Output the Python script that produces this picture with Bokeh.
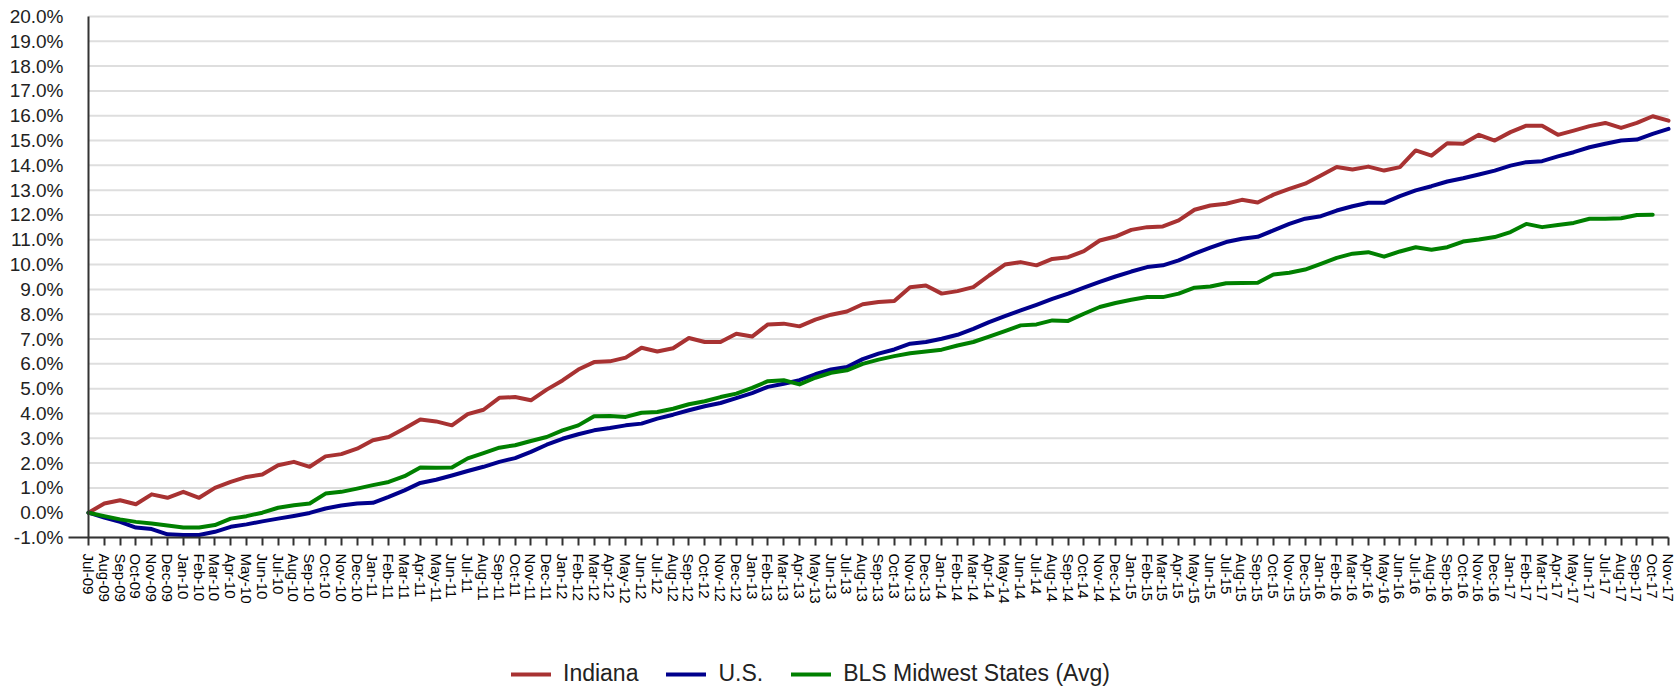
from bokeh.plotting import figure
from bokeh.models import (ColumnDataSource, FixedTicker, PrintfTickFormatter,
                          Legend, LegendItem, Range1d)
from bokeh.embed import file_html
from bokeh.resources import INLINE

months = [
    "Jul-09", "Aug-09", "Sep-09", "Oct-09", "Nov-09", "Dec-09",
    "Jan-10", "Feb-10", "Mar-10", "Apr-10", "May-10", "Jun-10", "Jul-10", "Aug-10", "Sep-10", "Oct-10", "Nov-10", "Dec-10",
    "Jan-11", "Feb-11", "Mar-11", "Apr-11", "May-11", "Jun-11", "Jul-11", "Aug-11", "Sep-11", "Oct-11", "Nov-11", "Dec-11",
    "Jan-12", "Feb-12", "Mar-12", "Apr-12", "May-12", "Jun-12", "Jul-12", "Aug-12", "Sep-12", "Oct-12", "Nov-12", "Dec-12",
    "Jan-13", "Feb-13", "Mar-13", "Apr-13", "May-13", "Jun-13", "Jul-13", "Aug-13", "Sep-13", "Oct-13", "Nov-13", "Dec-13",
    "Jan-14", "Feb-14", "Mar-14", "Apr-14", "May-14", "Jun-14", "Jul-14", "Aug-14", "Sep-14", "Oct-14", "Nov-14", "Dec-14",
    "Jan-15", "Feb-15", "Mar-15", "Apr-15", "May-15", "Jun-15", "Jul-15", "Aug-15", "Sep-15", "Oct-15", "Nov-15", "Dec-15",
    "Jan-16", "Feb-16", "Mar-16", "Apr-16", "May-16", "Jun-16", "Jul-16", "Aug-16", "Sep-16", "Oct-16", "Nov-16", "Dec-16",
    "Jan-17", "Feb-17", "Mar-17", "Apr-17", "May-17", "Jun-17", "Jul-17", "Aug-17", "Sep-17", "Oct-17", "Nov-17",
]

indiana = [
    0.0, 0.37, 0.5, 0.34, 0.74, 0.6, 0.84, 0.6, 1.0, 1.24,
    1.44, 1.54, 1.91, 2.05, 1.85, 2.27, 2.36, 2.58, 2.92, 3.05,
    3.39, 3.76, 3.68, 3.52, 3.97, 4.15, 4.63, 4.66, 4.53, 4.96,
    5.33, 5.77, 6.07, 6.1, 6.25, 6.65, 6.5, 6.63, 7.04, 6.88,
    6.88, 7.21, 7.1, 7.59, 7.62, 7.51, 7.78, 7.98, 8.11, 8.4,
    8.49, 8.53, 9.09, 9.16, 8.83, 8.93, 9.09, 9.56, 10.0, 10.1,
    9.97, 10.23, 10.3, 10.54, 10.97, 11.13, 11.4, 11.51, 11.54, 11.78,
    12.21, 12.38, 12.45, 12.61, 12.5, 12.82, 13.05, 13.26, 13.59, 13.93,
    13.83, 13.95, 13.79, 13.93, 14.6, 14.39, 14.89, 14.87, 15.23, 15.0,
    15.34, 15.6, 15.6, 15.23, 15.4, 15.58, 15.71, 15.51, 15.71, 15.98,
    15.8,
]

us = [
    0.0, -0.2, -0.37, -0.6, -0.66, -0.87, -0.9, -0.9, -0.77, -0.57,
    -0.47, -0.35, -0.24, -0.13, -0.01, 0.17, 0.29, 0.37, 0.4, 0.64,
    0.9, 1.2, 1.33, 1.5, 1.68, 1.85, 2.05, 2.2, 2.45, 2.74,
    2.98, 3.16, 3.32, 3.41, 3.52, 3.59, 3.79, 3.95, 4.13, 4.29,
    4.42, 4.62, 4.82, 5.07, 5.2, 5.34, 5.58, 5.77, 5.87, 6.19,
    6.41, 6.58, 6.81, 6.88, 7.01, 7.17, 7.41, 7.68, 7.92, 8.15,
    8.38, 8.62, 8.83, 9.07, 9.3, 9.52, 9.72, 9.9, 9.97, 10.17,
    10.44, 10.68, 10.91, 11.04, 11.12, 11.38, 11.64, 11.85, 11.95, 12.18,
    12.35, 12.49, 12.49, 12.76, 12.99, 13.16, 13.35, 13.48, 13.63, 13.79,
    13.99, 14.13, 14.17, 14.36, 14.53, 14.73, 14.87, 15.0, 15.04, 15.27,
    15.47,
]

midwest = [
    0.0, -0.14, -0.27, -0.37, -0.44, -0.52, -0.6, -0.6, -0.5, -0.24,
    -0.14, 0.0, 0.2, 0.3, 0.37, 0.77, 0.84, 0.97, 1.11, 1.24,
    1.47, 1.82, 1.81, 1.82, 2.19, 2.4, 2.62, 2.72, 2.89, 3.05,
    3.32, 3.52, 3.89, 3.9, 3.86, 4.03, 4.06, 4.19, 4.37, 4.49,
    4.66, 4.8, 5.03, 5.3, 5.34, 5.17, 5.44, 5.64, 5.74, 6.0,
    6.17, 6.31, 6.43, 6.5, 6.57, 6.74, 6.88, 7.1, 7.32, 7.55,
    7.59, 7.75, 7.73, 8.02, 8.29, 8.45, 8.58, 8.69, 8.69, 8.83,
    9.07, 9.12, 9.25, 9.26, 9.27, 9.6, 9.67, 9.8, 10.03, 10.27,
    10.44, 10.5, 10.32, 10.53, 10.7, 10.6, 10.7, 10.93, 11.01, 11.11,
    11.31, 11.64, 11.51, 11.6, 11.68, 11.85, 11.85, 11.87, 12.0, 12.01,
    float("nan"),
]

y_ticks = [-1, 0, 1, 2, 3, 4, 5, 6, 7, 8, 9, 10, 11, 12, 13, 14, 15, 16, 17, 18, 19, 20]

series_names = ["Indiana", "U.S.", "BLS Midwest States (Avg)"]
series_colors = ["#A83232", "#00008C", "#008000"]

x_idx = list(range(len(months)))
src = ColumnDataSource(data=dict(x=x_idx, indiana=indiana, us=us, midwest=midwest))

FONT = "Liberation Sans"

# ---- layout (pixels inside the canvas); the frame fills the whole canvas and the
# axes are pinned at the first month / the -1% level so that edge labels are not clipped
FIG_W, FIG_H = 1678, 686
X0_PX, XN_PX = 88, 1668       # pixel of first / last month
Y_TOP_PX, Y_BOT_PX = 16, 537  # pixel of top (20%) / bottom (-1%) value
n_last = len(months) - 1
sp_x = (XN_PX - X0_PX) / n_last
sp_y = (Y_BOT_PX - Y_TOP_PX) / (y_ticks[-1] - y_ticks[0])
x_start = -X0_PX / sp_x
x_end = n_last + (FIG_W - XN_PX) / sp_x
y_end = y_ticks[-1] + Y_TOP_PX / sp_y
y_start = y_ticks[0] - (FIG_H - Y_BOT_PX) / sp_y

p = figure(width=FIG_W, height=FIG_H, output_backend="svg", toolbar_location=None,
           x_range=Range1d(x_start, x_end), y_range=Range1d(y_start, y_end),
           min_border_left=0, min_border_right=0, min_border_top=0, min_border_bottom=0)
p.outline_line_color = None
p.background_fill_color = "white"
p.border_fill_color = "white"
p.xgrid.visible = False
p.ygrid.visible = False

# horizontal grid lines, from the first to the last month
p.segment(x0=[0] * len(y_ticks), x1=[n_last] * len(y_ticks), y0=y_ticks, y1=y_ticks,
          line_color="#dedede", line_width=2)

renderers = []
for col, color in zip(["indiana", "us", "midwest"], series_colors):
    r = p.line("x", col, source=src, line_color=color, line_width=4, line_join="round", line_cap="round")
    renderers.append(r)

# x axis, drawn at the -1% level
p.xaxis.fixed_location = y_ticks[0]
p.xaxis.bounds = (-20 / sp_x, n_last)
p.xaxis.ticker = FixedTicker(ticks=x_idx)
p.xaxis.major_label_overrides = {i: m for i, m in enumerate(months)}
p.xaxis.major_label_orientation = "vertical"
p.xaxis.major_label_text_font = FONT
p.xaxis.major_label_text_font_size = "15px"
p.xaxis.major_label_text_color = "#000000"
p.xaxis.major_label_standoff = 8
p.xaxis.major_tick_out = 8
p.xaxis.major_tick_in = 0
p.xaxis.minor_tick_out = 0
p.xaxis.minor_tick_in = 0
p.xaxis.axis_line_color = "#333333"
p.xaxis.axis_line_width = 2
p.xaxis.major_tick_line_color = "#333333"
p.xaxis.major_tick_line_width = 2

# y axis, drawn at the first month
p.yaxis.fixed_location = 0
p.yaxis.bounds = (y_ticks[0], y_ticks[-1])
p.yaxis.ticker = FixedTicker(ticks=y_ticks)
p.yaxis.formatter = PrintfTickFormatter(format="%.1f%%")
p.yaxis.major_label_text_font = FONT
p.yaxis.major_label_text_font_size = "19px"
p.yaxis.major_label_text_color = "#222222"
p.yaxis.major_label_standoff = 25
p.yaxis.major_tick_out = 0
p.yaxis.major_tick_in = 0
p.yaxis.minor_tick_out = 0
p.yaxis.minor_tick_in = 0
p.yaxis.axis_line_color = "#333333"
p.yaxis.axis_line_width = 2

legend = Legend(
    items=[LegendItem(label=n, renderers=[r]) for n, r in zip(series_names, renderers)],
    orientation="horizontal", location=(511, -1),
    glyph_width=40, glyph_height=20, label_standoff=12, spacing=28,
    label_text_font=FONT, label_text_font_size="23px", label_text_color="#222222",
    border_line_alpha=0, background_fill_alpha=0, padding=0, margin=0,
)
p.add_layout(legend)

open("out.html", "w").write(file_html(p, INLINE))
